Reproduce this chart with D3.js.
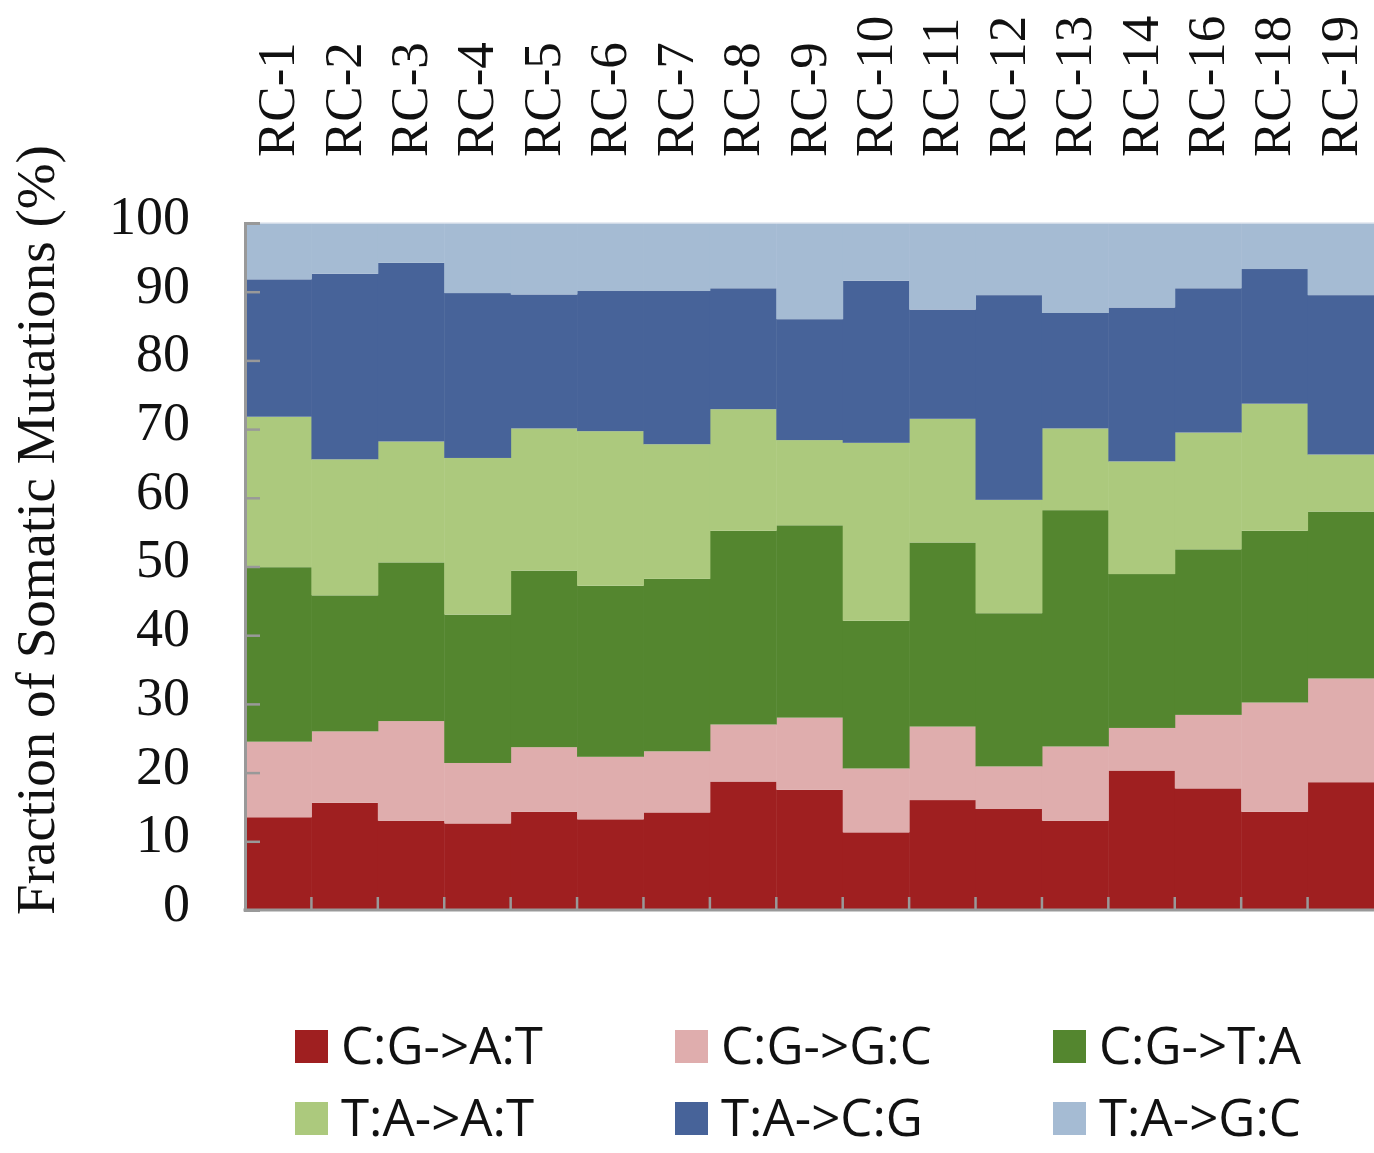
<!DOCTYPE html>
<html>
<head>
<meta charset="utf-8">
<script src="https://cdn.jsdelivr.net/npm/d3@7"></script>
<style>
  html, body { margin: 0; padding: 0; background: #fff; }
  svg { display: block; }
</style>
</head>
<body>
<script>
const categories = ["RC-1","RC-2","RC-3","RC-4","RC-5","RC-6","RC-7","RC-8","RC-9","RC-10","RC-11","RC-12","RC-13","RC-14","RC-16","RC-18","RC-19"];
const seriesNames = ["C:G->A:T","C:G->G:C","C:G->T:A","T:A->A:T","T:A->C:G","T:A->G:C"];
const seriesColors = ["#9f1f20","#dfadad","#54862f","#acc97d","#476399","#a5bbd3"];
const cgAT = [13.5,15.6,13.0,12.6,14.3,13.2,14.2,18.7,17.5,11.3,16.0,14.7,13.0,20.3,17.7,14.3,18.6];
const cgGC = [11.0,10.4,14.5,8.8,9.4,9.1,8.9,8.3,10.5,9.3,10.7,6.2,10.8,6.2,10.7,15.9,15.1];
const cgTA = [25.4,19.8,23.1,21.6,25.7,24.9,25.1,28.2,28.0,21.5,26.8,22.3,34.4,22.4,24.1,25.0,24.3];
const taAT = [21.9,19.8,17.6,22.8,20.7,22.5,19.6,17.7,12.4,25.9,18.0,16.5,11.9,16.4,17.0,18.5,8.3];
const taCG = [20.0,27.0,26.0,24.0,19.5,20.4,22.3,17.6,17.6,23.6,15.9,29.8,16.8,22.4,21.0,19.6,23.2];
const taGC = [8.2,7.4,5.8,10.2,10.4,9.9,9.9,9.5,14.0,8.4,12.6,10.5,13.1,12.3,9.5,6.7,10.5];
const yTicks = [0,10,20,30,40,50,60,70,80,90,100];
const yTitle = "Fraction of Somatic Mutations (%)";

const seriesValues = [cgAT, cgGC, cgTA, taAT, taCG, taGC];
const rows = categories.map((c, i) => {
  const r = { cat: c };
  seriesNames.forEach((s, j) => { r[s] = seriesValues[j][i]; });
  return r;
});

const W = 1374, H = 1153;
const pL = 245, pR = 1374, pT = 223, pB = 910;

const svg = d3.select("body").append("svg").attr("width", W).attr("height", H);

const x = d3.scaleBand().domain(categories).range([pL, pR]).padding(0);
const y = d3.scaleLinear().domain([0, 100]).range([pB, pT]);
const color = d3.scaleOrdinal().domain(seriesNames).range(seriesColors);

const stacked = d3.stack().keys(seriesNames)(rows);

svg.append("g").selectAll("g").data(stacked).join("g")
  .attr("fill", d => color(d.key))
  .selectAll("rect").data(d => d).join("rect")
  .attr("x", d => x(d.data.cat))
  .attr("width", x.bandwidth() + 0.5)
  .attr("y", d => y(d[1]))
  .attr("height", d => y(d[0]) - y(d[1]));

// top faint border
svg.append("line").attr("x1", pL).attr("x2", pR).attr("y1", pT).attr("y2", pT)
  .attr("stroke", "#dfe5ee").attr("stroke-width", 1.5);

// Y axis
const yAxis = svg.append("g").attr("transform", `translate(${pL},0)`)
  .call(d3.axisRight(y).tickValues(yTicks).tickSize(15).tickFormat(""));
yAxis.select(".domain").attr("stroke", "#999").attr("stroke-width", 3);
yAxis.selectAll(".tick line").attr("stroke", "#999").attr("stroke-width", 2.5);

svg.append("g").selectAll("text").data(yTicks).join("text")
  .attr("x", 190)
  .attr("y", d => y(d) - 8)
  .attr("dy", "0.35em")
  .attr("text-anchor", "end")
  .attr("font-family", "'Liberation Serif', 'Times New Roman', serif")
  .attr("font-size", 54)
  .attr("fill", "#111")
  .text(d => d);

// X axis
const boundaries = categories.slice(1).map(c => x(c));
const xAxis = svg.append("g");
xAxis.append("line").attr("x1", pL - 1.5).attr("x2", pR).attr("y1", pB).attr("y2", pB)
  .attr("stroke", "#999").attr("stroke-width", 3);
xAxis.selectAll("line.tk").data(boundaries).join("line").attr("class", "tk")
  .attr("x1", d => d).attr("x2", d => d)
  .attr("y1", pB).attr("y2", pB - 13)
  .attr("stroke", "#999").attr("stroke-width", 2.5);

// category labels (top, rotated)
svg.append("g").selectAll("text").data(categories).join("text")
  .attr("transform", d => `translate(${x(d) + x.bandwidth() / 2 + 16},157) rotate(-90)`)
  .attr("font-family", "'Liberation Serif', 'Times New Roman', serif")
  .attr("font-size", 53)
  .attr("fill", "#111")
  .text(d => d);

// Y title
svg.append("text")
  .attr("transform", `translate(54,530) rotate(-90)`)
  .attr("text-anchor", "middle")
  .attr("font-family", "'Liberation Serif', 'Times New Roman', serif")
  .attr("font-size", 55)
  .attr("fill", "#111")
  .text(yTitle);

// Legend
const legendPos = [
  { sx: 295, row: 0 }, { sx: 675, row: 0 }, { sx: 1053, row: 0 },
  { sx: 295, row: 1 }, { sx: 675, row: 1 }, { sx: 1053, row: 1 }
];
const rowY = [1030, 1102];
const lg = svg.append("g").selectAll("g").data(seriesNames).join("g")
  .attr("transform", (d, i) => `translate(${legendPos[i].sx},${rowY[legendPos[i].row]})`);
lg.append("rect").attr("width", 33).attr("height", 33).attr("fill", d => color(d));
lg.append("text")
  .attr("x", 46).attr("y", 34)
  .attr("font-family", "'Open Sans', sans-serif")
  .attr("font-size", 51)
  .attr("fill", "#111")
  .text(d => d);
</script>
</body>
</html>
